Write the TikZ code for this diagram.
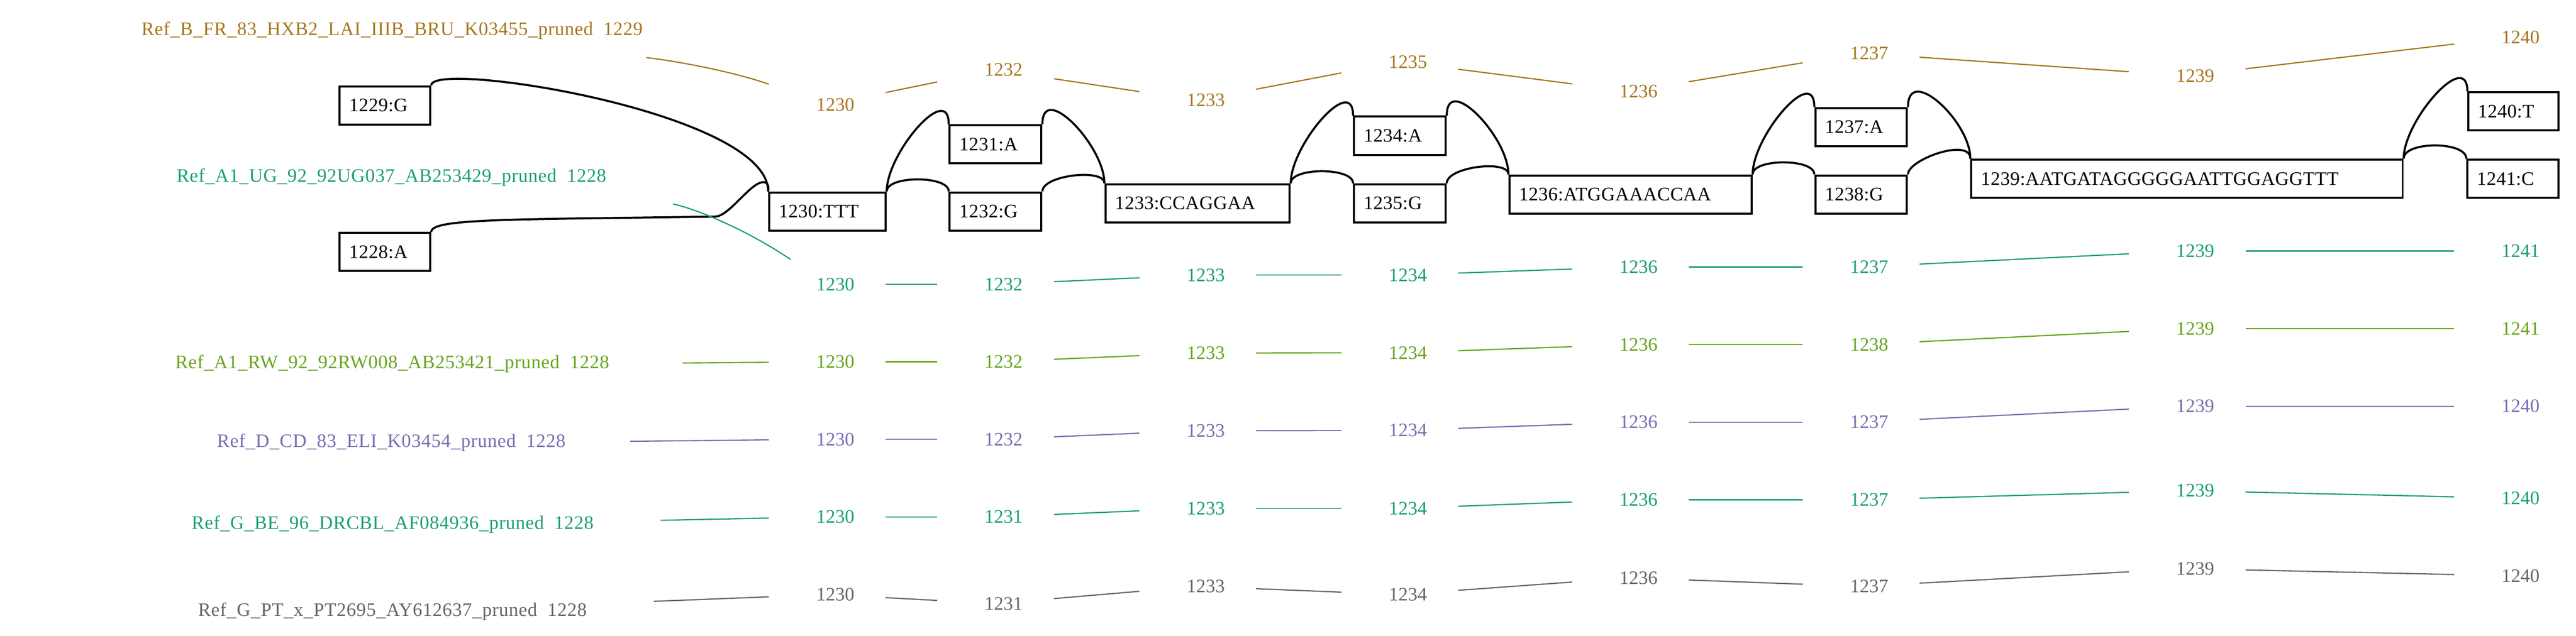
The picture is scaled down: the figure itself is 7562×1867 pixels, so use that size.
\documentclass[tikz,border=0pt]{standalone}
\usepackage{fontspec}
\setmainfont{Liberation Serif}
\newfontfamily\labfont[LetterSpace=2]{Liberation Serif}
\newfontfamily\boxfont[LetterSpace=1.2]{Liberation Serif}
\definecolor{cbrown}{HTML}{A6761D}
\definecolor{cteal}{HTML}{1B9E77}
\definecolor{cgreen}{HTML}{66A61E}
\definecolor{cpurple}{HTML}{7570B3}
\definecolor{cgrey}{HTML}{666666}
\begin{document}
\begin{tikzpicture}[x=0.25pt,y=-0.25pt, font=\fontsize{14}{16}\selectfont,
 box/.style={draw, line width=1.5pt, minimum height=28pt, inner xsep=7pt, inner ysep=0pt, align=left, font=\boxfont\fontsize{14}{16}\selectfont},
 num/.style={text width=39.75pt, align=right, inner xsep=22.75pt, inner ysep=0pt, minimum height=36pt},
 lab/.style={inner sep=0pt, font=\labfont\fontsize{14}{16}\selectfont},
 blk/.style={line width=1.5pt},
 thinl/.style={line width=0.9pt}]
\useasboundingbox (0,0) rectangle (7562,1867);

% sequence labels
\node[lab,text=cbrown]  (refB) at (1151,90)   {Ref\_B\_FR\_83\_HXB2\_LAI\_IIIB\_BRU\_K03455\_pruned\ \ 1229};
\node[lab,text=cteal]   (refU) at (1149,521)  {Ref\_A1\_UG\_92\_92UG037\_AB253429\_pruned\ \ 1228};
\node[lab,text=cgreen]  (refR) at (1151.5,1069) {Ref\_A1\_RW\_92\_92RW008\_AB253421\_pruned\ \ 1228};
\node[lab,text=cpurple] (refD) at (1148.5,1299) {Ref\_D\_CD\_83\_ELI\_K03454\_pruned\ \ 1228};
\node[lab,text=cteal]   (refE) at (1152.5,1540) {Ref\_G\_BE\_96\_DRCBL\_AF084936\_pruned\ \ 1228};
\node[lab,text=cgrey]   (refP) at (1152,1796) {Ref\_G\_PT\_x\_PT2695\_AY612637\_pruned\ \ 1228};

% variant boxes
\node[box, text width=52.5pt]   (g1229) at (1130,309.5) {1229:G};
\node[box, text width=52.5pt]   (a1228) at (1130,740)   {1228:A};
\node[box, text width=71.5pt]   (t1230) at (2429,621)   {1230:TTT};
\node[box, text width=53.25pt]  (a1231) at (2922.5,423.5) {1231:A};
\node[box, text width=53.25pt]  (g1232) at (2922.5,621) {1232:G};
\node[box, text width=121.25pt] (c1233) at (3515.5,597) {1233:CCAGGAA};
\node[box, text width=53.25pt]  (a1234) at (4109.5,398.5) {1234:A};
\node[box, text width=53.25pt]  (g1235) at (4109.5,597) {1235:G};
\node[box, text width=163.75pt] (s1236) at (4786.5,571) {1236:ATGGAAACCAA};
\node[box, text width=53.25pt]  (a1237) at (5463.5,373) {1237:A};
\node[box, text width=53.25pt]  (g1238) at (5463.5,571) {1238:G};
\node[box, text width=302.5pt]  (s1239) at (6420,525)   {1239:AATGATAGGGGGAATTGGAGGTTT};
\node[box, text width=52pt]     (t1240) at (7378,327)   {1240:T};
\node[box, text width=52.75pt]  (c1241) at (7376.5,525) {1241:C};

% black connectors
\draw[blk] (g1229.north east) .. controls +(0,-75) and +(0,-233) .. (t1230.north west);
\draw[blk] (a1228.north east) .. controls +(0,-40) and (1500,645) .. (2100,636)
  .. controls (2140,635) and (2200,540) .. (2238,535)
  .. controls (2252,533) and (2258,545) .. (t1230.north west);
\draw[blk] (t1230.north east) .. controls +(0,-113) and +(0,-126) .. (a1231.north west);
\draw[blk] (c1233.north east) .. controls +(0,-113) and +(0,-126) .. (a1234.north west);
\draw[blk] (s1236.north east) .. controls +(0,-113) and +(0,-126) .. (a1237.north west);
\draw[blk] (s1239.north east) .. controls +(0,-113) and +(0,-126) .. (t1240.north west);
\draw[blk] (a1231.north east) .. controls +(0,-126) and +(0,-110) .. (c1233.north west);
\draw[blk] (a1234.north east) .. controls +(0,-126) and +(0,-110) .. (s1236.north west);
\draw[blk] (a1237.north east) .. controls +(0,-126) and +(0,-110) .. (s1239.north west);
\draw[blk] (t1230.north east) .. controls +(0,-47) and +(0,-47) .. (g1232.north west);
\draw[blk] (c1233.north east) .. controls +(0,-47) and +(0,-47) .. (g1235.north west);
\draw[blk] (s1236.north east) .. controls +(0,-47) and +(0,-47) .. (g1238.north west);
\draw[blk] (s1239.north east) .. controls +(0,-52) and +(0,-52) .. (c1241.north west);
\draw[blk] (g1232.north east) .. controls +(0,-48) and +(0,-44) .. (c1233.north west);
\draw[blk] (g1235.north east) .. controls +(0,-48) and +(0,-44) .. (s1236.north west);
\draw[blk] (g1238.north east) .. controls +(0,-44) and +(0,-63) .. (s1239.north west);

% coloured position rows
\foreach \t/\x/\y [count=\i] in {1230/2428.5/307,1232/2922.5/205.5,1233/3516/294.7,1235/4109.5/181.4,1236/4786.5/268.2,1237/5463.5/156.1,1239/6420.5/222.4,1240/7375.5/109.1}
  \node[num,text=cbrown] (B\i) at (\x,\y) {\t};
\foreach \t/\x/\y [count=\i] in {1230/2428.5/835,1232/2922.5/835,1233/3516/808,1234/4109.5/808,1236/4786.5/784,1237/5463.5/784,1239/6420.5/737,1241/7375.5/737}
  \node[num,text=cteal] (U\i) at (\x,\y) {\t};
\foreach \t/\x/\y [count=\i] in {1230/2428.5/1062.5,1232/2922.5/1062.5,1233/3516/1037,1234/4109.5/1036,1236/4786.5/1012,1238/5463.5/1012,1239/6420.5/965,1241/7375.5/965}
  \node[num,text=cgreen] (R\i) at (\x,\y) {\t};
\foreach \t/\x/\y [count=\i] in {1230/2428.5/1290,1232/2922.5/1290,1233/3516/1265,1234/4109.5/1264,1236/4786.5/1240,1237/5463.5/1240,1239/6420.5/1193,1240/7375.5/1193}
  \node[num,text=cpurple] (D\i) at (\x,\y) {\t};
\foreach \t/\x/\y [count=\i] in {1230/2428.5/1518,1231/2922.5/1518,1233/3516/1493,1234/4109.5/1493,1236/4786.5/1468,1237/5463.5/1468,1239/6420.5/1441,1240/7375.5/1463}
  \node[num,text=cteal] (E\i) at (\x,\y) {\t};
\foreach \t/\x/\y [count=\i] in {1230/2428.5/1746,1231/2922.5/1772.5,1233/3516/1722,1234/4109.5/1746,1236/4786.5/1697,1237/5463.5/1722,1239/6420.5/1670,1240/7375.5/1691}
  \node[num,text=cgrey] (P\i) at (\x,\y) {\t};

\foreach \i [evaluate=\i as \j using int(\i+1)] in {1,...,7} {
  \draw[thinl,cbrown]  (B\i) -- (B\j);
  \draw[thinl,cteal]   (U\i) -- (U\j);
  \draw[thinl,cgreen]  (R\i) -- (R\j);
  \draw[thinl,cpurple] (D\i) -- (D\j);
  \draw[thinl,cteal]   (E\i) -- (E\j);
  \draw[thinl,cgrey]   (P\i) -- (P\j);
}

% connectors from sequence labels
\draw[thinl,cbrown] ([shift={(10,79)}]refB.east) .. controls (1990,180) and (2150,210) .. (B1);
\draw[thinl,cteal]  ([shift={(195,78)}]refU.east) .. controls (2050,615) and (2200,680) .. (U1);
\draw[thinl,cgreen]  ([shift={(215,-3)}]refR.east) -- (R1);
\draw[thinl,cpurple] ([shift={(189,-3)}]refD.east) -- (D1);
\draw[thinl,cteal]   ([shift={(196,-12)}]refE.east) -- (E1);
\draw[thinl,cgrey]   ([shift={(196,-30)}]refP.east) -- (P1);
\end{tikzpicture}
\end{document}
